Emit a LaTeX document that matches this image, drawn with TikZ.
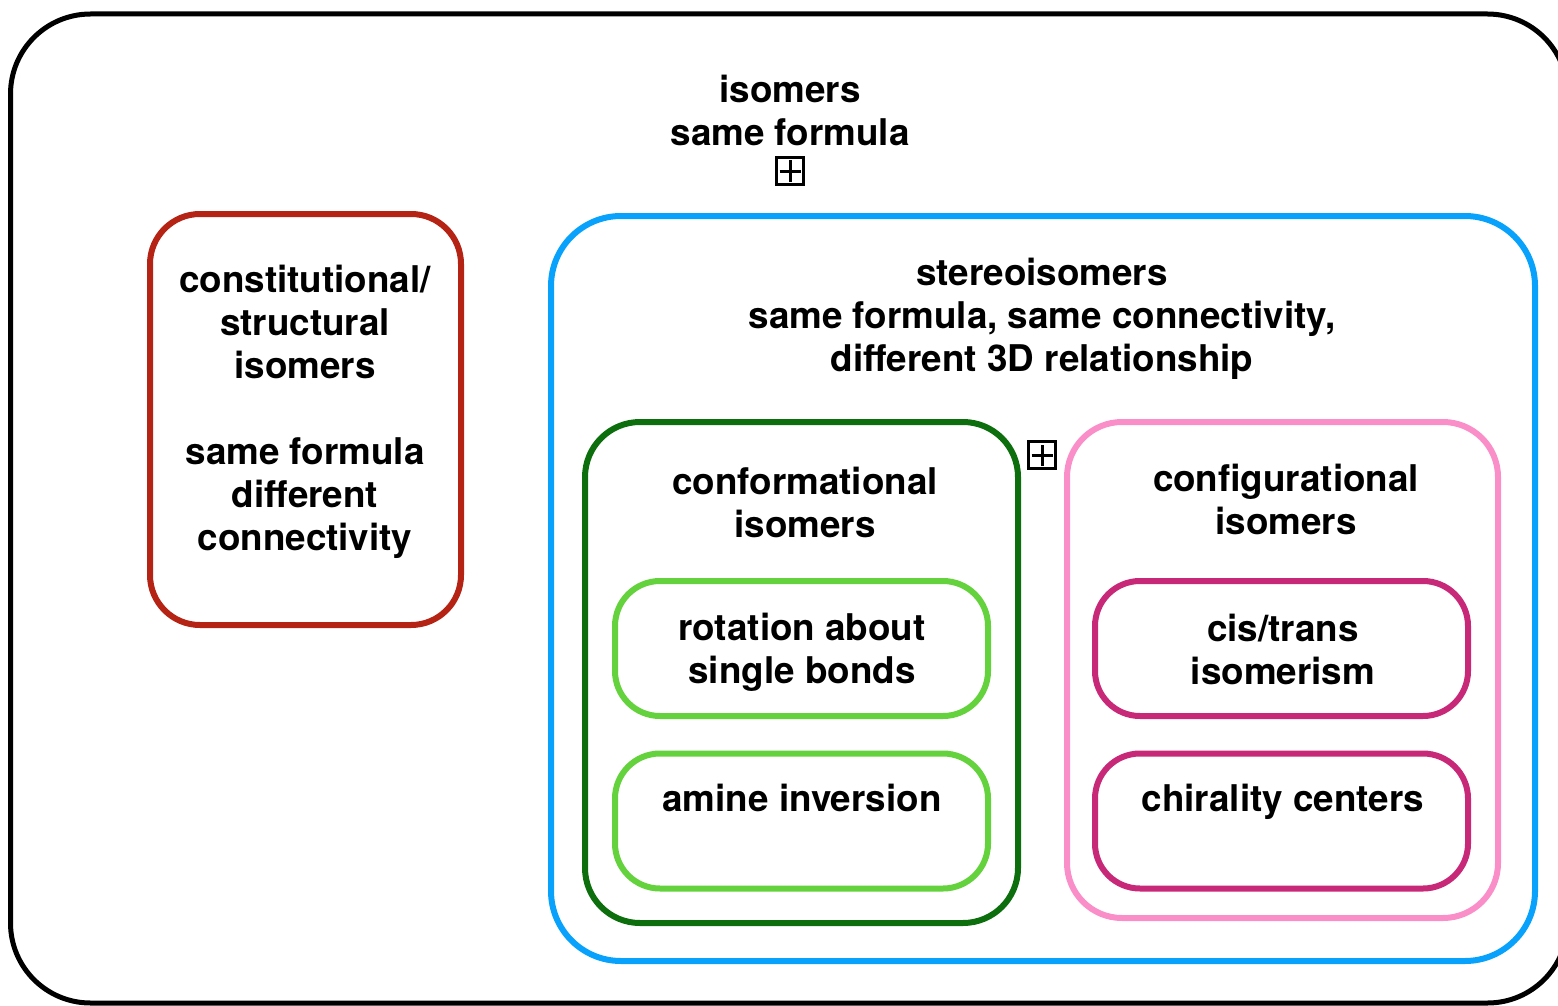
\documentclass[tikz,border=0pt]{standalone}
\usepackage{fontspec}
\setmainfont{TeX Gyre Heros}
\definecolor{cred}{RGB}{180,35,20}
\definecolor{cblue}{RGB}{8,162,252}
\definecolor{cdgreen}{RGB}{12,110,12}
\definecolor{cpink}{RGB}{250,142,200}
\definecolor{clgreen}{RGB}{100,210,60}
\definecolor{cmag}{RGB}{200,40,120}
\begin{document}
\begin{tikzpicture}[x=1pt,y=-1pt,
  box/.style={draw, rectangle, line width=6pt, inner sep=0pt, outer sep=0pt},
  lbl/.style={align=center, font=\fontsize{36.8}{43}\selectfont\bfseries, inner sep=0pt},
  plusbox/.style={draw, rectangle, line width=3pt, minimum size=27pt, inner sep=0pt,
    path picture={\draw[line width=3pt] ([xshift=-10.5pt]path picture bounding box.center) -- ([xshift=10.5pt]path picture bounding box.center);
                  \draw[line width=3pt] ([yshift=-10.5pt]path picture bounding box.center) -- ([yshift=10.5pt]path picture bounding box.center);}}
  ]
\useasboundingbox (0,0) rectangle (1558,1006);
\clip (0,0) rectangle (1558,1006);
% outer
\node[box, line width=5pt, rounded corners=80pt, minimum width=1557pt, minimum height=989pt] (outer) at (789,508.5) {};
% red
\node[box, draw=cred, rounded corners=50pt, minimum width=311pt, minimum height=411pt] (struct) at (305.5,419.5) {};
% blue
\node[box, draw=cblue, rounded corners=70pt, minimum width=984pt, minimum height=745pt] (stereo) at (1043,588.5) {};
% dark green
\node[box, draw=cdgreen, rounded corners=55pt, minimum width=433pt, minimum height=501pt] (conf) at (801.5,672.5) {};
% pink
\node[box, draw=cpink, rounded corners=55pt, minimum width=431pt, minimum height=496pt] (config) at (1282.5,670) {};
% light green
\node[box, draw=clgreen, rounded corners=45pt, minimum width=373pt, minimum height=135pt] (rot) at (801.5,648.5) {};
\node[box, draw=clgreen, rounded corners=45pt, minimum width=373pt, minimum height=135pt] (amine) at (801.5,821) {};
% magenta
\node[box, draw=cmag, rounded corners=45pt, minimum width=373pt, minimum height=135pt] (cis) at (1281.5,648.5) {};
\node[box, draw=cmag, rounded corners=45pt, minimum width=373pt, minimum height=135pt] (chir) at (1281.5,821) {};
% texts
\node[lbl] (tisomers) at (790,110) {isomers\\same formula};
\node[plusbox] (plus1) at (790,171) {};
\node[plusbox] (plus2) at (1042,455) {};
\node[lbl] (tstruct) at (305,412) {constitutional/\\structural\\isomers\\[43pt]same formula\\different\\connectivity};
\node[lbl] (tstereo) at (1042,319) {stereoisomers\\same formula, same connectivity,\\different 3D relationship};
\node[lbl] (tconf) at (805,502) {conformational\\isomers};
\node[lbl] (tconfig) at (1286,499) {configurational\\isomers};
\node[lbl] (trot) at (802,652) {rotation about\\single bonds};
\node[lbl] (tamine) at (802,798) {amine inversion};
\node[lbl] (tcis) at (1283,649) {cis/trans\\isomerism};
\node[lbl] (tchir) at (1283,802) {chirality centers};
\end{tikzpicture}
\end{document}
